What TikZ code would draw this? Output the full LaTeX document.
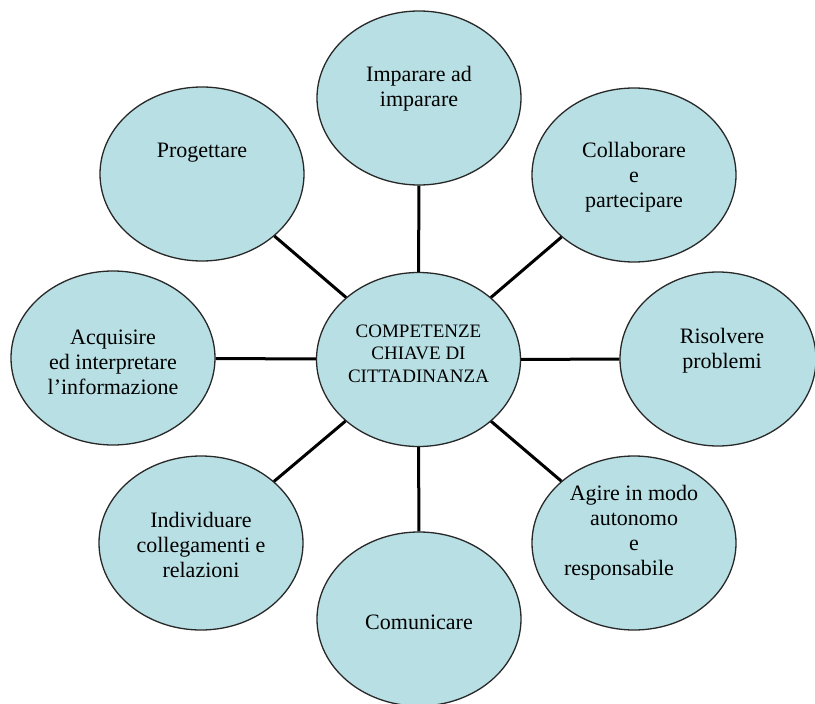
\documentclass[tikz,border=0pt]{standalone}
\usepackage{fontspec}
\setmainfont{Liberation Serif}
\usetikzlibrary{shapes.geometric}
\definecolor{bubble}{RGB}{184,223,227}
\definecolor{rim}{RGB}{40,40,40}
\tikzset{
  bub/.style={ellipse, draw=rim, line width=1.3pt, fill=bubble, inner sep=0pt,
              minimum width=204pt, minimum height=174pt},
  txt/.style={align=center, inner sep=0pt, font=\fontsize{22}{25}\selectfont},
  ctxt/.style={align=center, inner sep=0pt, font=\fontsize{19}{22.5}\selectfont},
  conn/.style={line width=3pt, black}
}
\begin{document}
\begin{tikzpicture}[x=1pt,y=-1pt]
\useasboundingbox (0,0) rectangle (815,704);
\node[bub] (c) at (418.5,359.5) {};
\node[bub] (imp) at (419,98) {};
\node[bub] (pro) at (202,174) {};
\node[bub] (col) at (634,175) {};
\node[bub, minimum width=196pt] (ris) at (718,359) {};
\node[bub] (acq) at (113,358) {};
\node[bub] (ind) at (201,543) {};
\node[bub] (com) at (419,619) {};
\node[bub] (agi) at (634,543) {};

\node[ctxt, yshift=6pt] (tc) at (c) {COMPETENZE\\CHIAVE DI\\CITTADINANZA};
\node[txt, yshift=9pt] (timp) at (imp) {Imparare ad\\imparare};
\node[txt, yshift=21pt] (tpro) at (pro) {Progettare};
\node[txt, yshift=-2pt] (tcol) at (col) {Collaborare\\e\\partecipare};
\node[txt, yshift=8pt] (tris) at (722,359) {Risolvere\\problemi};
\node[txt, yshift=-4pt] (tacq) at (acq) {Acquisire\\ed interpretare\\l’informazione};
\node[txt, yshift=-2pt] (tind) at (ind) {Individuare\\collegamenti e\\relazioni};
\node[txt, yshift=-3pt] (tcom) at (com) {Comunicare};
\node[txt, yshift=10pt] (tagi) at (agi) {Agire in modo\\autonomo\\e\\responsabile\kern30pt};

\draw[conn] (c) -- (imp);
\draw[conn] (c) -- (pro);
\draw[conn] (c) -- (col);
\draw[conn] (c) -- (ris);
\draw[conn] (c) -- (acq);
\draw[conn] (c) -- (ind);
\draw[conn] (c) -- (com);
\draw[conn] (c) -- (agi);
\end{tikzpicture}
\end{document}
